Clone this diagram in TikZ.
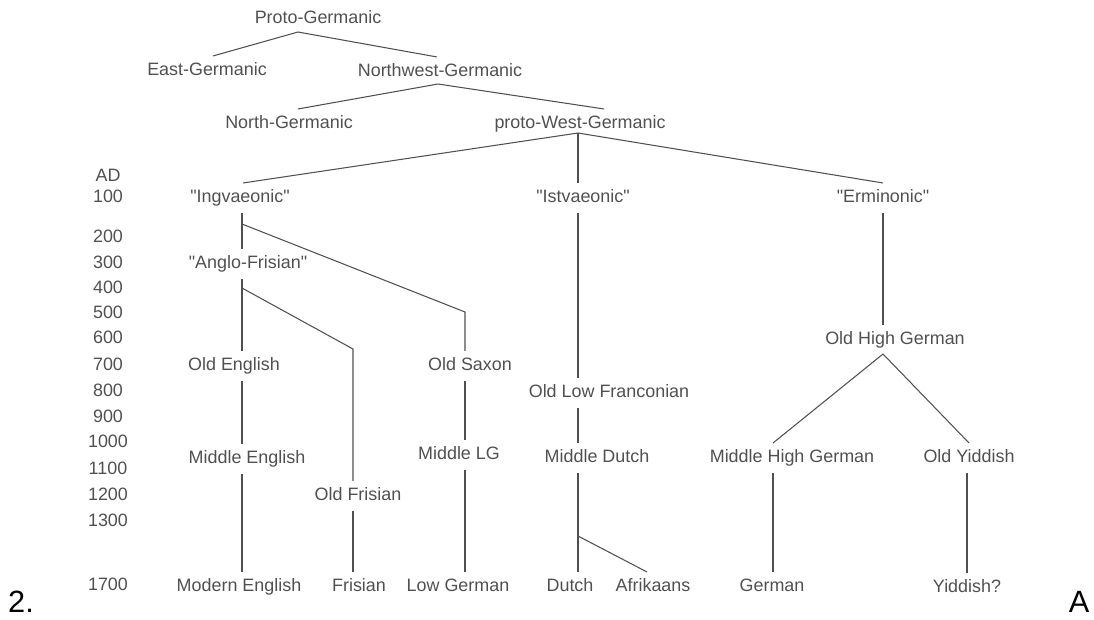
\documentclass[tikz,border=0pt]{standalone}
\usepackage{fontspec}
\setmainfont{Liberation Sans}[Ligatures=TeXOff]
\usepackage{tikz}
\usetikzlibrary{calc}
\definecolor{ink}{RGB}{80,80,80}
\newcommand{\qt}{\symbol{34}}

\begin{document}
\begin{tikzpicture}[x=.02cm,y=-.02cm,
    lang/.style={text=ink,font=\fontsize{10.2}{12}\selectfont,inner sep=3.7pt,text height=7.3pt,text depth=2pt},
    yr/.style={lang},
    branch/.style={draw=ink,line width=.6pt},
    big/.style={font=\fontsize{17.5}{20}\selectfont,anchor=base,inner sep=0pt}]
        \useasboundingbox (0,0) rectangle (1094,619);
        \node[lang] (pg) at (318,19) {Proto-Germanic};
        \node[lang] (eg) at (207,71) {East-Germanic};
        \node[lang] (nwg) at (440,72) {Northwest-Germanic};
        \node[lang] (ng) at (289,124) {North-Germanic};
        \node[lang] (pwg) at (580,124) {proto-West-Germanic};
        \node[lang] (ingv) at (240,198) {\qt Ingvaeonic\qt};
        \node[lang] (ist) at (583,198) {\qt Istvaeonic\qt};
        \node[lang] (erm) at (883,198) {\qt Erminonic\qt};
        \node[lang] (af) at (248,264) {\qt Anglo-Frisian\qt};
        \node[lang] (oe) at (234,366) {Old English};
        \node[lang] (os) at (470,366) {Old Saxon};
        \node[lang] (ohg) at (895,340) {Old High German};
        \node[lang] (olf) at (609,393) {Old Low Franconian};
        \node[lang] (me) at (247,459) {Middle English};
        \node[lang] (mlg) at (459,455) {Middle LG};
        \node[lang] (md) at (597,458) {Middle Dutch};
        \node[lang] (mhg) at (792,458) {Middle High German};
        \node[lang] (oy) at (969,458) {Old Yiddish};
        \node[lang] (ofr) at (358,496) {Old Frisian};
        \node[lang] (mode) at (239,587) {Modern English};
        \node[lang] (fris) at (359,587) {Frisian};
        \node[lang] (lg) at (458,587) {Low German};
        \node[lang] (dutch) at (570,587) {Dutch};
        \node[lang] (afr) at (653,587) {Afrikaans};
        \node[lang] (ger) at (772,587) {German};
        \node[lang] (yid) at (967,588) {Yiddish?};
        \foreach \y/\t in {175/AD,196/100,236/200,262/300,287/400,312/500,337/600,364/700,390/800,416/900,441/1000,468/1100,494/1200,520/1300,584/1700}
          \node[yr] (yr\t) at (108,\y+2) {\t};
        \node[big] (num) at (21,612) {2.};
        \node[big] (letA) at (1079,612) {A};
        \coordinate (pgfork) at (298,32);
        \coordinate (nwgfork) at (438,84);
        \coordinate (pwgfork) at (578,133);
        \coordinate (ingvfork) at (242,224);
        \coordinate (affork) at (242,288);
        \coordinate (osbend) at (465,312);
        \coordinate (frbend) at (353,349);
        \coordinate (mdfork) at (578,536);
        \coordinate (ohgfork) at (883,354);
        \coordinate (colA) at (242,0);
        \coordinate (colE) at (883,0);
        \coordinate (colM) at (773,0);
        \draw[branch] ($(eg.north)+(6,0)$) -- (pgfork) -- ($(nwg.north)+(-3,0)$);
        \draw[branch] ($(ng.north)+(9,0)$) -- (nwgfork) -- ($(pwg.north)+(24,0)$);
        \draw[branch] ($(ingv.north)+(3,0)$) -- (pwgfork) -- (erm.north);
        \draw[branch] (pwgfork) -- (pwgfork |- ist.north);
        \draw[branch] (colA |- ingv.south) -- (colA |- af.north);
        \draw[branch] (ingvfork) -- (osbend) -- (osbend |- os.north);
        \draw[branch] (colA |- af.south) -- (colA |- oe.north);
        \draw[branch] (affork) -- (frbend) -- (frbend |- ofr.north);
        \draw[branch] (colA |- oe.south) -- (colA |- me.north);
        \draw[branch] (colA |- me.south) -- (colA |- mode.north);
        \draw[branch] (frbend |- ofr.south) -- (frbend |- fris.north);
        \draw[branch] (osbend |- os.south) -- (osbend |- mlg.north);
        \draw[branch] (osbend |- mlg.south) -- (osbend |- lg.north);
        \draw[branch] (pwgfork |- ist.south) -- (pwgfork |- olf.north);
        \draw[branch] (pwgfork |- olf.south) -- (pwgfork |- md.north);
        \draw[branch] (pwgfork |- md.south) -- (pwgfork |- dutch.north);
        \draw[branch] (mdfork) -- ($(afr.north)+(-6,0)$);
        \draw[branch] (colE |- erm.south) -- (colE |- ohg.north);
        \draw[branch] (colM |- mhg.north) -- (ohgfork) -- (oy.north);
        \draw[branch] (colM |- mhg.south) -- (colM |- ger.north);
        \draw[branch] (yid.north |- oy.south) -- (yid.north);
      \end{tikzpicture}
\end{document}
